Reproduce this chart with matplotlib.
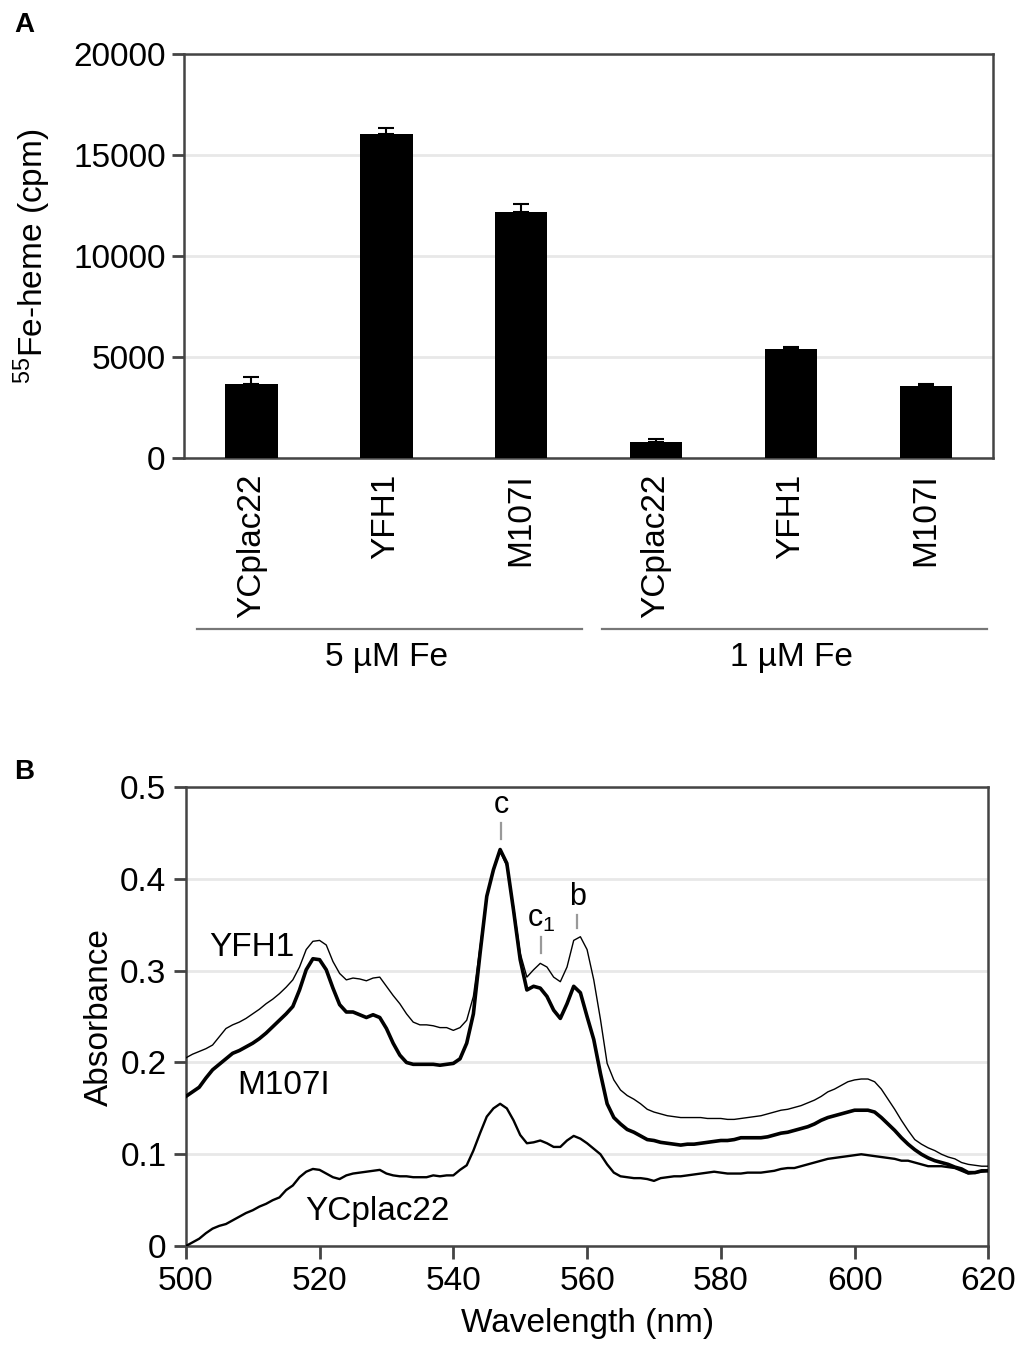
import matplotlib.pyplot as plt
import numpy as np
from matplotlib import transforms

plt.rcParams['font.family'] = ['Liberation Sans', 'DejaVu Sans']
plt.rcParams['mathtext.default'] = 'regular'

# panel A: 55Fe-heme incorporation
strains = ['YCplac22', 'YFH1', 'M107I', 'YCplac22', 'YFH1', 'M107I']
heme_cpm = [3650, 16050, 12200, 780, 5400, 3580]
heme_err = [370, 300, 380, 180, 100, 100]
groups = ['5 µM Fe', '1 µM Fe']

# panel B: reduced minus oxidized spectra, 500-620 nm every 1 nm
wavelength = np.arange(500, 621)
yfh1 = [0.205, 0.209, 0.212, 0.215, 0.219, 0.228, 0.237, 0.241, 0.244, 0.248,
        0.253, 0.258, 0.264, 0.269, 0.275, 0.282, 0.290, 0.304, 0.323, 0.332,
        0.333, 0.328, 0.310, 0.297, 0.290, 0.292, 0.291, 0.289, 0.292, 0.293,
        0.283, 0.273, 0.264, 0.253, 0.244, 0.241, 0.241, 0.240, 0.238, 0.238,
        0.235, 0.238, 0.246, 0.272, 0.326, 0.381, 0.410, 0.430, 0.414, 0.370,
        0.319, 0.293, 0.301, 0.308, 0.304, 0.293, 0.288, 0.304, 0.333, 0.337,
        0.323, 0.290, 0.247, 0.199, 0.181, 0.170, 0.164, 0.160, 0.155, 0.149,
        0.146, 0.144, 0.142, 0.141, 0.140, 0.140, 0.140, 0.140, 0.139, 0.139,
        0.139, 0.138, 0.138, 0.139, 0.140, 0.141, 0.142, 0.144, 0.146, 0.148,
        0.149, 0.151, 0.153, 0.156, 0.159, 0.163, 0.168, 0.171, 0.175, 0.179,
        0.181, 0.182, 0.182, 0.179, 0.171, 0.160, 0.149, 0.137, 0.126, 0.116,
        0.111, 0.107, 0.104, 0.100, 0.097, 0.095, 0.091, 0.089, 0.088, 0.087,
        0.087]
m107i = [0.163, 0.168, 0.173, 0.183, 0.192, 0.198, 0.204, 0.210, 0.213, 0.217,
         0.221, 0.226, 0.232, 0.239, 0.246, 0.253, 0.261, 0.279, 0.301, 0.313,
         0.312, 0.301, 0.281, 0.263, 0.255, 0.255, 0.252, 0.249, 0.252, 0.249,
         0.237, 0.221, 0.208, 0.200, 0.198, 0.198, 0.198, 0.198, 0.197, 0.198,
         0.199, 0.204, 0.221, 0.253, 0.319, 0.381, 0.410, 0.432, 0.417, 0.366,
         0.312, 0.279, 0.283, 0.281, 0.272, 0.257, 0.248, 0.264, 0.283, 0.276,
         0.250, 0.225, 0.188, 0.155, 0.140, 0.133, 0.127, 0.124, 0.120, 0.116,
         0.115, 0.113, 0.112, 0.111, 0.110, 0.111, 0.111, 0.112, 0.113, 0.114,
         0.115, 0.115, 0.116, 0.118, 0.118, 0.118, 0.118, 0.119, 0.121, 0.123,
         0.124, 0.126, 0.128, 0.130, 0.133, 0.137, 0.140, 0.142, 0.144, 0.146,
         0.148, 0.148, 0.148, 0.146, 0.140, 0.133, 0.126, 0.118, 0.111, 0.105,
         0.100, 0.096, 0.093, 0.091, 0.089, 0.086, 0.084, 0.080, 0.080, 0.082,
         0.082]
ycplac22 = [0.000, 0.004, 0.008, 0.014, 0.019, 0.022, 0.024, 0.028, 0.032, 0.036,
            0.039, 0.043, 0.046, 0.050, 0.053, 0.061, 0.066, 0.075, 0.081, 0.084,
            0.083, 0.079, 0.075, 0.073, 0.077, 0.079, 0.080, 0.081, 0.082, 0.083,
            0.079, 0.077, 0.076, 0.076, 0.075, 0.075, 0.075, 0.077, 0.076, 0.077,
            0.077, 0.083, 0.088, 0.104, 0.123, 0.141, 0.150, 0.155, 0.150, 0.137,
            0.121, 0.112, 0.113, 0.115, 0.112, 0.108, 0.108, 0.115, 0.120, 0.117,
            0.112, 0.106, 0.100, 0.089, 0.080, 0.076, 0.075, 0.074, 0.074, 0.073,
            0.071, 0.074, 0.075, 0.076, 0.076, 0.077, 0.078, 0.079, 0.080, 0.081,
            0.080, 0.079, 0.079, 0.079, 0.080, 0.080, 0.080, 0.081, 0.082, 0.084,
            0.085, 0.085, 0.087, 0.089, 0.091, 0.093, 0.095, 0.096, 0.097, 0.098,
            0.099, 0.100, 0.099, 0.098, 0.097, 0.096, 0.095, 0.093, 0.093, 0.091,
            0.089, 0.087, 0.087, 0.087, 0.086, 0.085, 0.082, 0.079, 0.080, 0.081,
            0.082]
# cytochrome peak markers: label, wavelength, bottom of tick, top of tick, text y
peaks = [('c', 547.2, 0.443, 0.461, 0.464),
         ('c$_1$', 553.1, 0.319, 0.337, 0.340),
         ('b', 558.5, 0.346, 0.361, 0.364)]

fs = 24
spine_col = '#444444'

fig = plt.figure(figsize=(10.21, 13.55), dpi=100)

# ---- panel A ----
ax = fig.add_axes([0.180, 0.662, 0.793, 0.298])
x = np.arange(len(strains))
ax.bar(x, heme_cpm, width=0.39, color='black', zorder=3)
ax.errorbar(x, heme_cpm, yerr=[[0] * len(x), heme_err], fmt='none',
            ecolor='black', elinewidth=1.5, capsize=6, capthick=1.5, zorder=4)
ax.set_xlim(-0.5, 5.5)
ax.set_ylim(0, 20000)
ax.set_yticks([0, 5000, 10000, 15000, 20000])
ax.set_yticklabels(['0', '5000', '10000', '15000', '20000'])
ax.set_xticks(x)
ax.set_xticklabels(strains, rotation=90, va='top')
ax.tick_params(axis='x', length=0, pad=11, labelsize=fs)
ax.tick_params(axis='y', direction='out', length=9, width=2,
               color=spine_col, pad=4, labelsize=fs)
ax.grid(axis='y', color='#e8e8e8', linewidth=2, zorder=0)
for s in ax.spines.values():
    s.set_color(spine_col)
    s.set_linewidth(1.8)
ax.set_ylabel('$^{55}$Fe-heme (cpm)', fontsize=fs)
ax.yaxis.set_label_coords(-0.162, 0.5)

# group brackets under the category labels
trans = transforms.blended_transform_factory(ax.transData, ax.transAxes)
for i, g in enumerate(groups):
    x0 = 3 * i - 0.4
    x1 = 3 * i + 2.45
    ax.plot([x0, x1], [-0.423, -0.423], color='#777777', lw=1.6,
            transform=trans, clip_on=False)
    ax.text(3 * i + 1, -0.495, g, transform=trans, ha='center', va='center',
            fontsize=fs)

fig.text(14 / 1021, 1 - 25 / 1355, 'A', fontsize=20, fontweight='bold',
         va='center', ha='left')

# ---- panel B ----
ax2 = fig.add_axes([0.182, 0.0804, 0.786, 0.3387])
ax2.plot(wavelength, ycplac22, color='black', lw=1.7, zorder=3)
ax2.plot(wavelength, m107i, color='black', lw=2.6, zorder=3)
ax2.plot(wavelength, yfh1, color='black', lw=1.0, zorder=4)
ax2.set_xlim(500, 620)
ax2.set_ylim(0, 0.5)
ax2.set_xticks(range(500, 621, 20))
ax2.set_yticks([0, 0.1, 0.2, 0.3, 0.4, 0.5])
ax2.set_yticklabels(['0', '0.1', '0.2', '0.3', '0.4', '0.5'])
ax2.tick_params(direction='out', length=9, width=2, color=spine_col,
                labelsize=fs, pad=5)
ax2.grid(axis='y', color='#e8e8e8', linewidth=2, zorder=0)
for s in ax2.spines.values():
    s.set_color(spine_col)
    s.set_linewidth(1.8)
ax2.set_xlabel('Wavelength (nm)', fontsize=fs, labelpad=8)
ax2.set_ylabel('Absorbance', fontsize=fs)
ax2.yaxis.set_label_coords(-0.088, 0.5)

for lab, wl, y0, y1, yt in peaks:
    ax2.plot([wl, wl], [y0, y1], color='#999999', lw=1.6)
    ax2.text(wl, yt, lab, ha='center', va='bottom', fontsize=22)

ax2.text(503.5, 0.325, 'YFH1', fontsize=fs, va='center', ha='left')
ax2.text(507.7, 0.175, 'M107I', fontsize=fs, va='center', ha='left')
ax2.text(517.8, 0.038, 'YCplac22', fontsize=fs, va='center', ha='left')

fig.text(14 / 1021, 1 - 772 / 1355, 'B', fontsize=20, fontweight='bold',
         va='center', ha='left')

plt.savefig('out.png', dpi=100)
